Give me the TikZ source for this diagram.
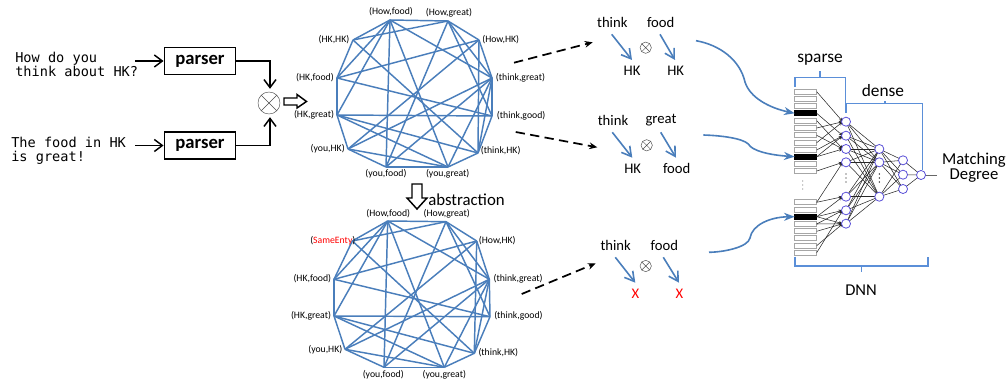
\documentclass[tikz,border=0pt]{standalone}
\usepackage{fontspec}
\setmainfont{Carlito}
\setmonofont{DejaVu Sans Mono}
\usetikzlibrary{arrows.meta,calc}
\definecolor{gblue}{HTML}{4A7EBB}
\definecolor{brblue}{HTML}{5B8FD8}
\definecolor{npur}{HTML}{5A50D8}
\tikzset{
 pedge/.style={draw=gblue,line width=1.1pt},
 plabel/.style={font=\fontsize{7.3}{9}\selectfont,inner sep=0pt},
 word/.style={font=\fontsize{13}{14}\selectfont,inner sep=0pt},
 gword/.style={font=\fontsize{11}{12}\selectfont,inner sep=0pt},
 mono/.style={font=\ttfamily\fontsize{10.2}{10.5}\selectfont,inner sep=0pt,align=left},
 parserbox/.style={draw=black,line width=1.2pt,minimum width=53.5pt,minimum height=20pt,inner sep=0pt,font=\bfseries\fontsize{14}{15}\selectfont},
 blk/.style={draw=black,line width=1.1pt,-{Straight Barb[length=6pt,width=9pt,line width=1.1pt]}},
 dashy/.style={draw=black,line width=1.3pt,dash pattern=on 7pt off 4pt,-{Stealth[length=6pt,width=5pt]}},
 blar/.style={draw=gblue,line width=1.2pt,-{Straight Barb[length=7pt,width=8pt,line width=1.2pt]}},
 curvy/.style={draw=gblue,line width=1.2pt,-{Stealth[length=8pt,width=6pt,inset=2.5pt]}},
 otim/.style={circle,draw=black!70,line width=.35pt,minimum size=#1,inner sep=0pt,path picture={
   \draw[black!70,line width=.35pt] (path picture bounding box.north west)--(path picture bounding box.south east)
   (path picture bounding box.north east)--(path picture bounding box.south west);}},
 cell/.style={draw=black!35,fill=white,line width=.6pt,minimum width=16.5pt,minimum height=3.9pt,inner sep=0pt,outer sep=0pt},
 hot/.style={draw=black,fill=black,line width=.6pt,minimum width=16.5pt,minimum height=3.9pt,inner sep=0pt,outer sep=0pt},
 neu/.style={circle,draw=npur,fill=white,line width=.6pt,minimum size=6.8pt,inner sep=0pt,outer sep=0pt},
 syn/.style={draw=black!85,line width=.4pt,-{Stealth[length=3pt,width=2.5pt]}},
 lnk/.style={draw=black!85,line width=.4pt},
 brk/.style={draw=brblue,line width=1pt},
 fat/.style={draw=black,fill=white,line width=1.1pt,line join=miter},
}
\newcommand{\chords}[1]{%
 \foreach \a/\b in {1/2,2/3,3/4,4/5,5/6,6/7,7/8,8/9,9/10,10/11,11/12,12/1,
   1/11,1/10,1/8,1/4,1/7,2/12,2/8,2/4,2/5,3/11,3/9,3/6,4/9,4/8,4/7,4/6,
   12/6,11/5,10/5,10/6,10/7,9/7}{\draw[pedge] (#1\a)--(#1\b);}}
\begin{document}
\begin{tikzpicture}[x=0.75pt,y=-0.75pt]
\useasboundingbox (0,0) rectangle (1007,381);
% left part
\node[mono,anchor=west] (s1) at (15,64) {How do you\\think about HK?};
\node[mono,anchor=west] (s2) at (11,151) {The food in HK\\is great!};
\node[parserbox] (pa) at (200,61) {parser};
\node[parserbox] (pb) at (200,145.5) {parser};
\node[otim=16.5pt] (ot) at (269,103) {};
\coordinate (ia) at (135,61); \coordinate (ib) at (135,145.5);
\draw[blk] (ia)--(pa);
\draw[blk] (ib)--(pb);
\draw[blk] (pa.east)-|($(ot.north)+(1,-3)$);
\draw[blk] (pb.east)-|($(ot.south)+(1,3)$);
\draw[fat] (284,98)--(297,98)--(297,94.5)--(306.5,101.5)--(297,108)--(297,105)--(284,105)--cycle;
\draw[fat] (412,184)--(412,198)--(407,198)--(417,209)--(427,198)--(422,198)--(422,184)--cycle;
\node[font=\fontsize{12.6}{14}\selectfont,inner sep=0pt,anchor=west] (abs) at (428,200) {abstraction};
% graph 1
\foreach \n/\x/\y in {1/390/20,2/448/21,3/479/40,4/492/78,5/492/116,6/478/153,7/448/167,8/386/167,9/348/149,10/337/115,11/337/78,12/353/40}
  \coordinate (a\n) at (\x,\y);
\chords{a}
\node[plabel] (la1) at (391,12) {(How,food)};
\node[plabel] (la2) at (449,13) {(How,great)};
\node[plabel] (la3) at (500.7,40) {(How,HK)};
\node[plabel,anchor=west] (la4) at (495.7,78) {(think,great)};
\node[plabel,anchor=west] (la5) at (496.7,116) {(think,good)};
\node[plabel] (la6) at (500.7,151) {(think,HK)};
\node[plabel] (la7) at (447.7,173.5) {(you,great)};
\node[plabel] (la8) at (386,173.5) {(you,food)};
\node[plabel] (la9) at (327.7,149) {(you,HK)};
\node[plabel] (la10) at (314,115) {(HK,great)};
\node[plabel] (la11) at (315,77.7) {(HK,food)};
\node[plabel] (la12) at (334,40) {(HK,HK)};
% graph 2
\foreach \n/\x/\y in {1/387.7/221,2/446/221.7,3/476.7/241,4/489.3/279.3,5/490/316.7,6/474.3/353.3,7/444.3/367.3,8/384/367.3,9/345/349.3,10/334/316,11/334/279.3,12/352.3/241}
  \coordinate (b\n) at (\x,\y);
\chords{b}
\node[plabel] (lb1) at (388.3,213.3) {(How,food)};
\node[plabel] (lb2) at (446.7,214) {(How,great)};
\node[plabel] (lb3) at (497.3,241) {(How,HK)};
\node[plabel,anchor=west] (lb4) at (493.3,279) {(think,great)};
\node[plabel,anchor=west] (lb5) at (494,316) {(think,good)};
\node[plabel] (lb6) at (498.3,352.3) {(think,HK)};
\node[plabel] (lb7) at (444.3,374.5) {(you,great)};
\node[plabel] (lb8) at (383.3,374.5) {(you,food)};
\node[plabel] (lb9) at (325.3,350) {(you,HK)};
\node[plabel] (lb10) at (311,316) {(HK,great)};
\node[plabel] (lb11) at (312.3,279) {(HK,food)};
\node[plabel,anchor=west] (lb12) at (310,241) {(\textcolor{red}{SameEnty})};
% dashed arrows
\coordinate (da1) at (514,62.7); \coordinate (da2) at (592.7,42.3);
\coordinate (db1) at (515.7,132); \coordinate (db2) at (597.3,147.3);
\coordinate (dc1) at (521.7,294); \coordinate (dc2) at (595.7,263.3);
\draw[dashy] (da1)--(da2);
\draw[dashy] (db1)--(db2);
\draw[dashy] (dc1)--(dc2);
% groups
\node[gword] (t1) at (612.3,22) {think};
\node[gword] (f1) at (660.7,22) {food};
\node[gword] (h1) at (632,71) {HK};
\node[gword] (h2) at (675.7,71) {HK};
\node[otim=8.5pt] (o1) at (645.7,47.7) {};
\coordinate (t1a) at (611.7,34.3); \coordinate (t1b) at (632,60);
\coordinate (f1a) at (660,34.3); \coordinate (f1b) at (675,60);
\draw[blar] (t1a)--(t1b);
\draw[blar] (f1a)--(f1b);
\node[gword] (t2) at (613,120) {think};
\node[gword] (f2) at (661,120) {great};
\node[gword] (h3) at (632.7,168.7) {HK};
\node[gword] (h4) at (676.7,168.7) {food};
\node[otim=8.5pt] (o2) at (646.7,145.3) {};
\coordinate (t2a) at (612.3,132.3); \coordinate (t2b) at (632.3,157.7);
\coordinate (f2a) at (660.7,132.3); \coordinate (f2b) at (676,157.7);
\draw[blar] (t2a)--(t2b);
\draw[blar] (f2a)--(f2b);
\node[gword] (t3) at (615.7,245) {think};
\node[gword] (f3) at (664.3,245) {food};
\node[gword,text=red] (x1) at (635.3,294) {X};
\node[gword,text=red] (x2) at (679.3,294) {X};
\node[otim=8.5pt] (o3) at (645.7,266) {};
\coordinate (t3a) at (615.3,257.3); \coordinate (t3b) at (635.3,282.7);
\coordinate (f3a) at (663.3,257.3); \coordinate (f3b) at (679,282.7);
\draw[blar] (t3a)--(t3b);
\draw[blar] (f3a)--(f3b);
% network cells
\foreach \n/\y in {1/91.7,2/99,3/106.3,5/120.7,6/128,7/135.3,8/142.7,9/150,11/163.7,12/171,13/202.3,14/209.7,16/224,17/231.3,18/238.3,19/245.7,20/252.7}
  \node[cell] (c\n) at (805.7,\y) {};
\foreach \n/\y in {4/113.3,10/156.7,15/216.7}
  \node[hot] (c\n) at (805.7,\y) {};
% layers
\foreach \n/\y in {1/121.7,2/135.7,3/149,4/162.3,5/196.7,6/210.3,7/223.7}
  \coordinate (m\n) at (846,\y);
\foreach \n/\y in {1/149,2/162.3,3/196.7}
  \coordinate (q\n) at (879.3,\y);
\foreach \n/\y in {1/160.3,2/174.7,3/189}
  \coordinate (r\n) at (903,\y);
\coordinate (out) at (921,175);
\coordinate (outend) at (937,175);
\foreach \a in {1,...,7}\foreach \b in {1,2,3}\draw[lnk] (m\a)--(q\b);
\foreach \a in {1,2,3}\foreach \b in {1,2,3}\draw[lnk] (q\a)--(r\b);
\foreach \a in {1,2,3}\draw[lnk] (r\a)--(out);
\draw[lnk,line width=.6pt,draw=black!60] (out)--(outend);
\foreach \a/\b in {1/1,4/2,5/3,6/1,8/1,7/3,9/2,10/3,10/2,12/4,13/4,13/5,15/5,15/6,15/7,16/6,16/7,17/7,19/7,20/6}
  \draw[syn] (c\a.east)--($(m\b)+(-3.2,0)$);
\foreach \n in {1,...,7}\node[neu] (mm\n) at (m\n) {};
\foreach \n in {1,2,3}\node[neu] (qq\n) at (q\n) {};
\foreach \n in {1,2,3}\node[neu] (rr\n) at (r\n) {};
\node[neu] (oo) at (out) {};
\foreach \p/\col in {846/black,879.3/black,802.7/black!50}
  \foreach \d in {-4,0,4}\fill[\col] (\p,{(\p==802.7 ? 185 : 178)+\d}) circle (.7);
% brackets
\draw[brk] (795,87)--(795,77.7)--(845.7,77.7)--(845.7,113);
\draw[brk] (820,77.7)--(820,71);
\draw[brk] (846.3,113)--(846.3,103.3)--(922.7,103.3)--(922.7,170);
\draw[brk] (885,103.3)--(885,101.5);
\draw[brk] (795,256.7)--(795,266)--(928,266)--(928,256.7);
\draw[brk] (861.7,266)--(861.7,272);
\node[word] (sp) at (820,60) {sparse};
\node[word] (de) at (883,91) {dense};
\node[font=\fontsize{12.4}{14}\selectfont,inner sep=0pt] (dn) at (861,290) {DNN};
\node[font=\fontsize{12.5}{14}\selectfont,inner sep=0pt] (m1) at (974,160) {Matching};
\node[font=\fontsize{12.5}{14}\selectfont,inner sep=0pt] (m2) at (974,176) {Degree};
% curves
\coordinate (ca) at (696,40.7); \coordinate (cb) at (703.3,135); \coordinate (cc) at (709,252.3);
\draw[curvy] (ca)..controls (720,45) and (740,60)..(745,82)..controls (750,98) and (770,108)..(c4.west);
\draw[curvy] (cb)..controls (720,135.5) and (742,138)..(748.3,144)..controls (752,151) and (770,155)..(c10.west);
\draw[curvy] (cc)..controls (725,252) and (748,247)..(750,238)..controls (752,225) and (770,217)..(c15.west);
\end{tikzpicture}
\end{document}
